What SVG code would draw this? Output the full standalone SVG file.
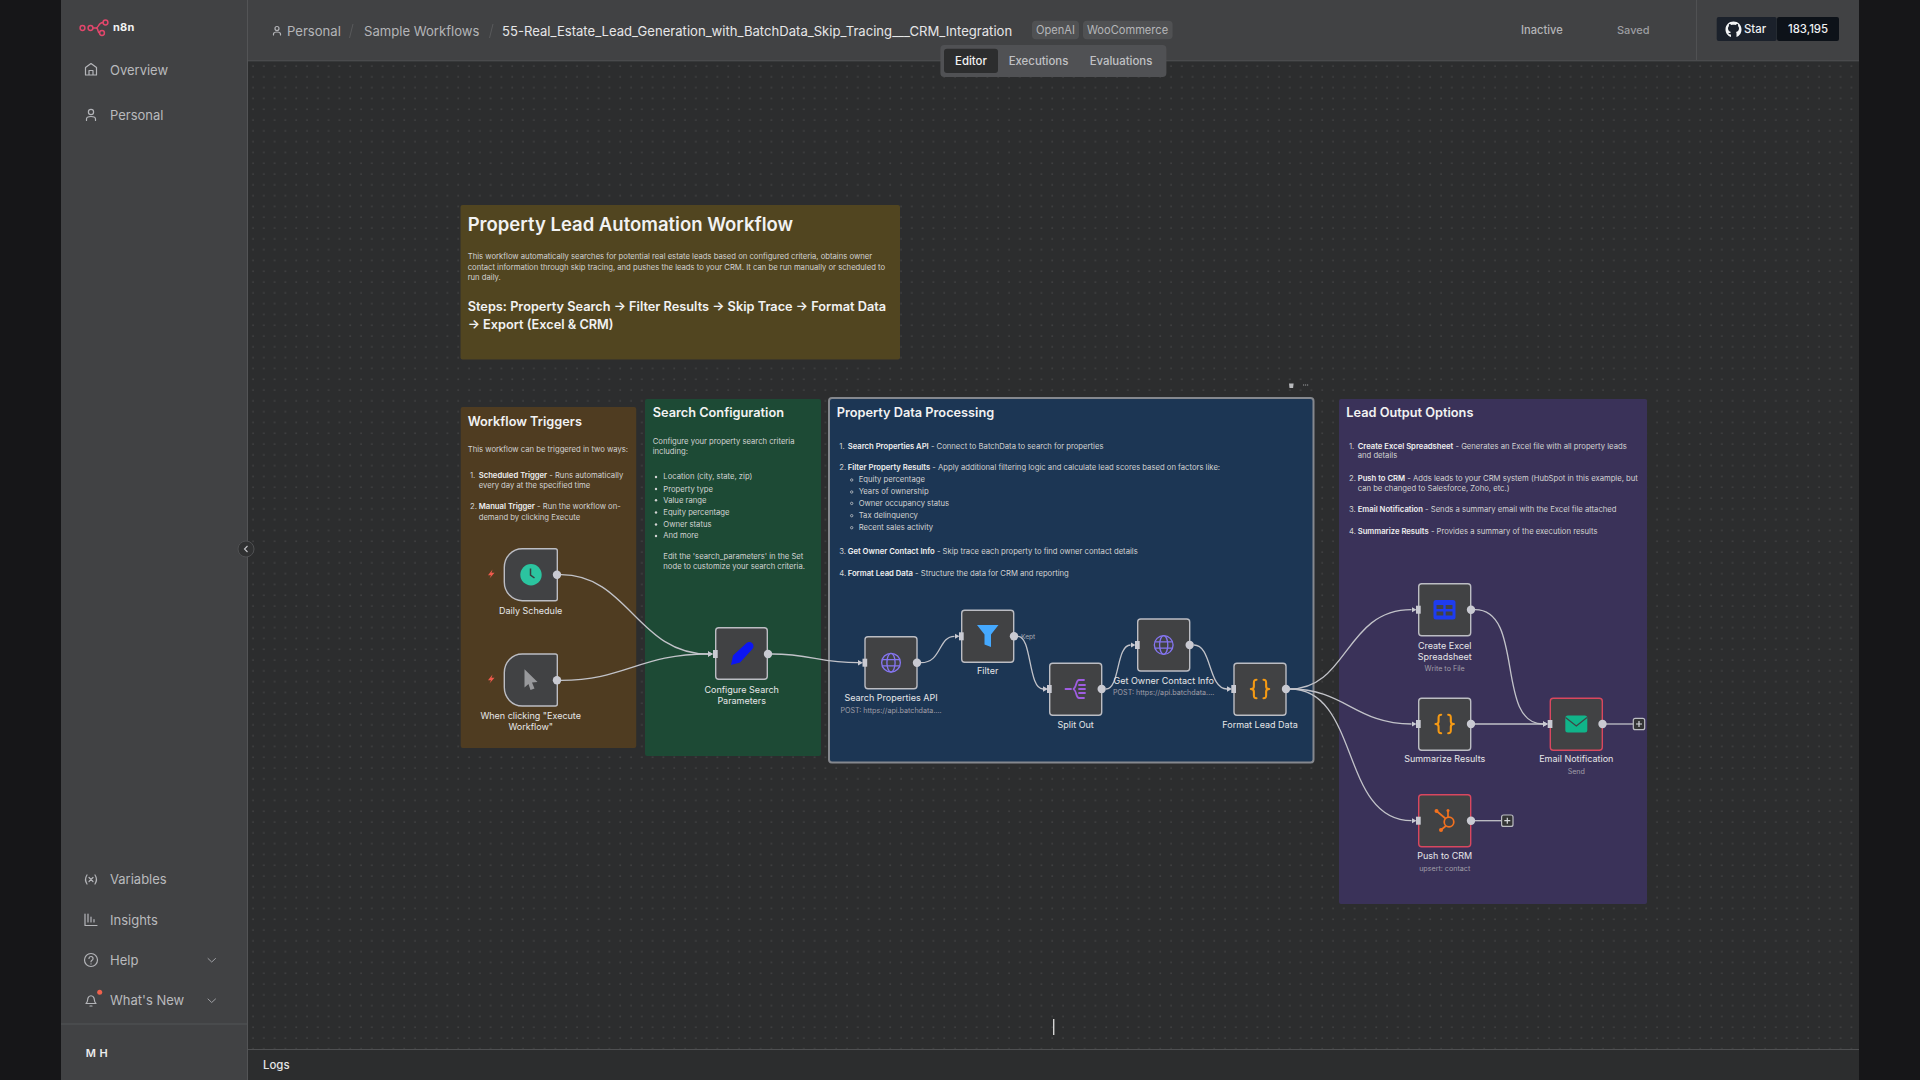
<svg xmlns="http://www.w3.org/2000/svg" width="1920" height="1080" viewBox="0 0 1920 1080">
<style>
text{font-family:Inter,"Liberation Sans",sans-serif}
.side{font-size:13px;fill:#b9babd}
.crumb{font-size:13.1px;fill:#b4b5b8}
.tag{font-size:11.1px;fill:#b5b6b9}
.tab{font-size:11.4px;fill:#c0c1c4;font-weight:500}
.h{font-size:12.75px;font-weight:600;fill:#f2f2f2}
.b{font-size:7.68px;fill:#d2d2d2}
.b tspan{font-weight:600;fill:#f0f0f0}
.nl{font-size:9px;fill:#e6e6e8;text-anchor:middle}
.ns{font-size:7.15px;fill:#a09fa8;text-anchor:middle}
.node{fill:#414244;stroke:#bcbdc3;stroke-width:1.4}
.red{stroke:#d9475f}
.edge{fill:none;stroke:#c2c3c9;stroke-width:1.3}
.out{fill:#c9cad2}
.port{fill:#c9cad2}
.ic{fill:none;stroke:#b4b5b9;stroke-width:1.2;stroke-linecap:round;stroke-linejoin:round}
.chev{fill:none;stroke:#9fa0a4;stroke-width:1;stroke-linecap:round;stroke-linejoin:round}
.plus{fill:#333435;stroke:#bcbdc3;stroke-width:1.2}
.plusm{stroke:#d6d7dc;stroke-width:1.2}
.globe{fill:none;stroke:#8575f0;stroke-width:1.5}
</style>
<defs>
<pattern id="dots" x="248" y="61" width="10.8" height="10.8" patternUnits="userSpaceOnUse">
<circle cx="5" cy="5" r="0.7" fill="#58595a"/>
</pattern>
<marker id="arr" markerWidth="7" markerHeight="8" refX="0" refY="4" orient="auto" markerUnits="userSpaceOnUse">
<path d="M0 1.200L5 4L0 6.800Z" fill="#c9cad2"/>
</marker>
<symbol id="globe" viewBox="0 0 24 24" overflow="visible">
<g class="globe">
<circle cx="12" cy="12" r="10.5"/>
<ellipse cx="12" cy="12" rx="4.600" ry="10.5"/>
<path d="M2 8.500H22M2 15.500H22"/>
</g>
</symbol>
<symbol id="braces" viewBox="0 0 24 24" overflow="visible">
<g fill="none" stroke="#f59a14" stroke-width="2.400" stroke-linecap="round" stroke-linejoin="round">
<path d="M8 1.500C5 1.500 5 3 5 5V9C5 11 4 12 1.500 12C4 12 5 13 5 15V19C5 21 5 22.500 8 22.500"/>
<path d="M16 1.500C19 1.500 19 3 19 5V9C19 11 20 12 22.500 12C20 12 19 13 19 15V19C19 21 19 22.500 16 22.500"/>
</g>
</symbol>
</defs>

<rect width="1920" height="1080" fill="#161618"/>
<rect x="61" y="0" width="1798" height="1080" fill="#2c2d2e"/>
<rect x="248" y="61" width="1611" height="988" fill="url(#dots)"/>

<g id="sidebar">
<rect x="61" y="0" width="186.500" height="1080" fill="#414244"/>
<path d="M247.500 0V1080" stroke="#535456" stroke-width="1"/>
<path d="M61 1024H247" stroke="#535456" stroke-width="1"/>
<g fill="none" stroke="#e2476c" stroke-width="1.500">
<circle cx="82.500" cy="28" r="2.400"/><circle cx="90.500" cy="28" r="2.400"/><circle cx="105.500" cy="22.500" r="2.400"/><circle cx="102" cy="33" r="2.400"/>
<path d="M93 28H96M96 28C99 28 98 22.500 103 22.500M96 28C99 28 97 33 99.600 33"/>
</g>
<text x="113" y="31" font-size="11" font-weight="700" fill="#f2f2f2" letter-spacing="0.2">n8n</text>
<path class="ic" d="M85.500 75V67.500L91 63.500L96.500 67.500V75ZM89 75V70.500H93V75"/>
<text class="side" x="110" y="74.700">Overview</text>
<circle class="ic" cx="91" cy="112" r="2.600"/><path class="ic" d="M86.500 120.500V119C86.500 117 88 116.500 91 116.500S95.500 117 95.500 119V120.500"/>
<text class="side" x="110" y="120">Personal</text>
<path class="ic" d="M87 875C85 878 85 881 87 884M95 875C97 878 97 881 95 884M89 877.500L93 881.500M93 877.500L89 881.500"/>
<text class="side" x="110" y="884">Variables</text>
<path class="ic" d="M85 914V925.500H97M88 914V922M91 917V922M94 919.500V922"/>
<text class="side" x="110" y="924.700">Insights</text>
<circle class="ic" cx="91" cy="960" r="6.500"/><path class="ic" d="M89 958.500C89 955.500 93.500 956 93 959C92.700 960.500 91 960 91 961.800M91 963.800V963.900"/>
<text class="side" x="110" y="965">Help</text>
<path class="chev" d="M208 958.500L211.700 962L215.500 958.500"/>
<path class="ic" d="M86 1003.500C88 1002 87.500 999.500 88 998C89 995 93 995 94 998C94.500 999.500 94 1002 96 1003.500ZM90 1006H92"/>
<circle cx="99.700" cy="992.300" r="2.500" fill="#f0614c"/>
<text class="side" x="110" y="1005">What's New</text>
<path class="chev" d="M208 999L211.700 1002.500L215.500 999"/>
<text x="85.700" y="1056.700" font-size="11" font-weight="600" fill="#ececec" letter-spacing="0.4">M H</text>
</g>

<g id="header">
<rect x="248" y="0" width="1611" height="60.500" fill="#414244"/>
<path d="M248 60.800H1859" stroke="#535456" stroke-width="1"/>
<path d="M1696.500 0V60" stroke="#505153" stroke-width="1"/>
<circle class="ic" cx="277" cy="28.500" r="2" stroke-width="1"/><path class="ic" stroke-width="1" d="M273.500 35V34C273.500 32.500 275 32 277 32S280.500 32.500 280.500 34V35"/>
<text class="crumb" x="287" y="35.700">Personal</text>
<path d="M353 24L349.500 38" stroke="#58595b" stroke-width="1"/>
<text class="crumb" x="364" y="35.700">Sample Workflows</text>
<path d="M493 24L489.500 38" stroke="#58595b" stroke-width="1"/>
<text x="502" y="35.700" font-size="13.100" fill="#e6e6e8">55-Real_Estate_Lead_Generation_with_BatchData_Skip_Tracing___CRM_Integration</text>
<rect x="1032" y="20.700" width="47" height="18.600" rx="4" fill="#505153"/>
<text class="tag" x="1036" y="33.700">OpenAI</text>
<rect x="1083" y="20.700" width="89.600" height="18.600" rx="4" fill="#505153"/>
<text class="tag" x="1087" y="33.700">WooCommerce</text>
<text x="1521" y="33.800" font-size="11.100" font-weight="500" fill="#b4b5b8">Inactive</text>
<text x="1617" y="33.500" font-size="11" font-weight="500" fill="#9d9ea2">Saved</text>
<rect x="1716.700" y="17" width="60" height="24" rx="2" fill="#1b212b"/>
<rect x="1777" y="17" width="62" height="24" rx="2" fill="#0d1219"/>
<path d="M1733.500 21.500C1729 21.500 1725.500 25 1725.500 29.500C1725.500 33 1727.800 36 1731 37V34.500C1729 34.800 1728.500 33.500 1728.200 32.800C1730 33.500 1730.500 32.500 1731 32C1729 31.500 1728 30 1728 28.500C1728 27.500 1728.500 26.500 1729 26C1728.800 25.500 1728.800 24.500 1729.200 24C1730 24 1731 24.500 1731.500 25C1732.800 24.700 1734.200 24.700 1735.500 25C1736 24.500 1737 24 1737.800 24C1738.200 24.500 1738.200 25.500 1738 26C1738.500 26.500 1739 27.500 1739 28.500C1739 30 1738 31.500 1736 32C1736.500 32.500 1736.500 33.500 1736.500 34V37C1739.500 36 1741.500 33 1741.500 29.500C1741.500 25 1738 21.500 1733.500 21.500Z" fill="#f4f5f6"/>
<text x="1744" y="33" font-size="11.400" font-weight="500" fill="#eff0f2">Star</text>
<text x="1808" y="33" font-size="11.400" font-weight="500" fill="#eff0f2" text-anchor="middle">183,195</text>
</g>

<g id="tabs">
<rect x="940.400" y="45" width="226" height="32" rx="4" fill="#505154"/>
<rect x="944" y="48.700" width="54" height="24.300" rx="3" fill="#2c2d2e"/>
<text class="tab" x="971" y="64.500" text-anchor="middle" style="fill:#f2f2f2">Editor</text>
<text class="tab" x="1038.500" y="64.500" text-anchor="middle">Executions</text>
<text class="tab" x="1121" y="64.500" text-anchor="middle">Evaluations</text>
</g>

<g id="collapse">
<circle cx="246" cy="549" r="8" fill="#303132" stroke="#4f5052" stroke-width="1"/>
<path d="M247.500 546L244.500 549L247.500 552" fill="none" stroke="#c4c5c8" stroke-width="1.100"/>
</g>

<g id="logs">
<rect x="248" y="1049" width="1611" height="31" fill="#2c2d2e"/>
<path d="M248 1049.500H1859" stroke="#4f5052" stroke-width="1"/>
<text x="263" y="1069" font-size="11.400" font-weight="500" fill="#e4e4e6">Logs</text>
</g>
<rect id="cursor" x="1053" y="1019" width="1.400" height="16" fill="#d5d5d5"/>

<g id="note-main">
<rect x="460.500" y="205" width="439.500" height="154.500" rx="2" fill="#514520"/>
<text x="467.700" y="230.700" font-size="18.500" font-weight="600" fill="#f2f2f2">Property Lead Automation Workflow</text>
<text class="b" x="467.700" y="259.300">This workflow automatically searches for potential real estate leads based on configured criteria, obtains owner</text>
<text class="b" x="467.700" y="269.700">contact information through skip tracing, and pushes the leads to your CRM. It can be run manually or scheduled to</text>
<text class="b" x="467.700" y="280">run daily.</text>
<text x="467.700" y="311" font-size="12.750" font-weight="600" fill="#f2f2f2">Steps: Property Search → Filter Results → Skip Trace → Format Data</text>
<text x="467.700" y="328.700" font-size="12.750" font-weight="600" fill="#f2f2f2">→ Export (Excel &amp; CRM)</text>
</g>

<g id="note-triggers">
<rect x="460.700" y="407" width="175.500" height="341" rx="2" fill="#4f3c21"/>
<text class="h" x="467.700" y="426">Workflow Triggers</text>
<text class="b" x="467.700" y="452.300">This workflow can be triggered in two ways:</text>
<text class="b" x="470" y="477.700">1.</text>
<text class="b" x="478.700" y="477.700"><tspan>Scheduled Trigger</tspan> - Runs automatically</text>
<text class="b" x="478.700" y="487.700">every day at the specified time</text>
<text class="b" x="470" y="509.300">2.</text>
<text class="b" x="478.700" y="509.300"><tspan>Manual Trigger</tspan> - Run the workflow on-</text>
<text class="b" x="478.700" y="519.700">demand by clicking Execute</text>
</g>

<g id="note-search">
<rect x="645" y="399" width="176" height="357" rx="2" fill="#1d4a35"/>
<text class="h" x="652.700" y="416.700">Search Configuration</text>
<text class="b" x="652.700" y="444">Configure your property search criteria</text>
<text class="b" x="652.700" y="454.300">including:</text>
<g fill="#d4d4d4"><circle cx="656" cy="477" r="1.200"/><circle cx="656" cy="489" r="1.200"/><circle cx="656" cy="500.300" r="1.200"/><circle cx="656" cy="512.500" r="1.200"/><circle cx="656" cy="524.500" r="1.200"/><circle cx="656" cy="536" r="1.200"/></g>
<text class="b" x="663.300" y="479.300">Location (city, state, zip)</text>
<text class="b" x="663.300" y="491.700">Property type</text>
<text class="b" x="663.300" y="502.700">Value range</text>
<text class="b" x="663.300" y="515">Equity percentage</text>
<text class="b" x="663.300" y="527">Owner status</text>
<text class="b" x="663.300" y="538.300">And more</text>
<text class="b" x="663.300" y="559">Edit the 'search_parameters' in the Set</text>
<text class="b" x="663.300" y="569.300">node to customize your search criteria.</text>
</g>

<g id="note-processing">
<rect x="829" y="398" width="484.500" height="364.500" rx="3" fill="#1c3654" stroke="#85888e" stroke-width="2"/>
<text class="h" x="836.700" y="416.700">Property Data Processing</text>
<text class="b" x="839.300" y="448.700">1.</text>
<text class="b" x="847.700" y="448.700"><tspan>Search Properties API</tspan> - Connect to BatchData to search for properties</text>
<text class="b" x="839.300" y="470">2.</text>
<text class="b" x="847.700" y="470"><tspan>Filter Property Results</tspan> - Apply additional filtering logic and calculate lead scores based on factors like:</text>
<g fill="none" stroke="#d4d4d4" stroke-width="0.700"><circle cx="851.700" cy="480" r="1.200"/><circle cx="851.700" cy="492" r="1.200"/><circle cx="851.700" cy="503.400" r="1.200"/><circle cx="851.700" cy="515.700" r="1.200"/><circle cx="851.700" cy="527.700" r="1.200"/></g>
<text class="b" x="858.700" y="482.300">Equity percentage</text>
<text class="b" x="858.700" y="494.300">Years of ownership</text>
<text class="b" x="858.700" y="505.700">Owner occupancy status</text>
<text class="b" x="858.700" y="518">Tax delinquency</text>
<text class="b" x="858.700" y="530">Recent sales activity</text>
<text class="b" x="839.300" y="554.300">3.</text>
<text class="b" x="847.700" y="554.300"><tspan>Get Owner Contact Info</tspan> - Skip trace each property to find owner contact details</text>
<text class="b" x="839.300" y="576">4.</text>
<text class="b" x="847.700" y="576"><tspan>Format Lead Data</tspan> - Structure the data for CRM and reporting</text>
</g>
<g id="note-toolbar" fill="#b8b9bc">
<path d="M1289 383.500H1293.600L1293.100 388H1289.500Z"/>
<path d="M1303 385H1304.200M1305 385H1306.200M1307 385H1308.200" stroke="#b8b9bc" stroke-width="0.800"/>
</g>

<g id="note-output">
<rect x="1339" y="399" width="308" height="505" rx="2" fill="#3a3259"/>
<text class="h" x="1346.300" y="416.700">Lead Output Options</text>
<text class="b" x="1349" y="448.700">1.</text>
<text class="b" x="1357.700" y="448.700"><tspan>Create Excel Spreadsheet</tspan> - Generates an Excel file with all property leads</text>
<text class="b" x="1357.700" y="458">and details</text>
<text class="b" x="1349" y="480.700">2.</text>
<text class="b" x="1357.700" y="480.700"><tspan>Push to CRM</tspan> - Adds leads to your CRM system (HubSpot in this example, but</text>
<text class="b" x="1357.700" y="491">can be changed to Salesforce, Zoho, etc.)</text>
<text class="b" x="1349" y="512">3.</text>
<text class="b" x="1357.700" y="512"><tspan>Email Notification</tspan> - Sends a summary email with the Excel file attached</text>
<text class="b" x="1349" y="533.700">4.</text>
<text class="b" x="1357.700" y="533.700"><tspan>Summarize Results</tspan> - Provides a summary of the execution results</text>
</g>

<g id="connectors">
<path class="edge" marker-end="url(#arr)" d="M561 574.700C628 574.700 638 654 708 654"/>
<path class="edge" marker-end="url(#arr)" d="M561 680.300C625 680.300 640 654 708 654"/>
<path class="edge" marker-end="url(#arr)" d="M772 654C810 654 820 662.700 858 662.700"/>
<path class="edge" marker-end="url(#arr)" d="M921 662.700C942 662.700 938 636.300 954.500 636.300"/>
<path class="edge" marker-end="url(#arr)" d="M1018 636.300C1032 636.300 1028 689 1043 689"/>
<path class="edge" marker-end="url(#arr)" d="M1106 689C1120 689 1116 645 1130.500 645"/>
<path class="edge" marker-end="url(#arr)" d="M1194 645C1212 645 1208 689 1227 689"/>
<path class="edge" marker-end="url(#arr)" d="M1290 689C1348 689 1345 609.700 1411.500 609.700"/>
<path class="edge" marker-end="url(#arr)" d="M1290 689C1345 689 1355 724 1411.500 724"/>
<path class="edge" marker-end="url(#arr)" d="M1290 689C1360 689 1340 820.700 1411.500 820.700"/>
<path class="edge" marker-end="url(#arr)" d="M1475 609.700C1525 609.700 1495 724 1543 724"/>
<path class="edge" marker-end="url(#arr)" d="M1475 724H1543"/>
<path class="edge" d="M1606 724H1633"/>
<path class="edge" d="M1475 820.700H1501"/>
</g>

<g id="node-daily">
<path class="node" d="M522.300 548.700H555.300Q557.300 548.700 557.300 550.700V598.700Q557.300 600.700 555.300 600.700H522.300C512 600.700 504.300 592 504.300 582V567.500C504.300 557 512 548.700 522.300 548.700Z"/>
<circle cx="531" cy="574.700" r="10.700" fill="#2bc4a0"/>
<path d="M530.500 568.500V575L534.500 578" fill="none" stroke="#3a3c3e" stroke-width="1.500"/>
<circle class="out" cx="557" cy="574.700" r="4.200"/>
<path d="M492.500 569.500L488 575.200H491L489.500 578.500L494.500 572.800H491.500Z" fill="#ef5a4c"/>
<text class="nl" x="530.700" y="613.500">Daily Schedule</text>
</g>

<g id="node-manual">
<path class="node" d="M522.300 654H555.300Q557.300 654 557.300 656V704Q557.300 706 555.300 706H522.300C512 706 504.300 697.300 504.300 687.300V672.800C504.300 662.300 512 654 522.300 654Z"/>
<path d="M524.500 669.200L537.500 682L532 682.500L534.500 688.500L530.500 690L528.500 684L524.500 687.500Z" fill="#98999c"/>
<circle class="out" cx="557" cy="680.300" r="4.200"/>
<path d="M492.500 674.500L488 680.200H491L489.500 683.500L494.500 677.800H491.500Z" fill="#ef5a4c"/>
<text class="nl" x="530.700" y="718.700">When clicking "Execute</text>
<text class="nl" x="530.700" y="729.700">Workflow"</text>
</g>

<g id="node-config">
<rect class="node" x="715.700" y="627.700" width="51.600" height="51.600" rx="3"/>
<rect class="port" x="713" y="650" width="4.700" height="8"/>
<path d="M731 665L733 655.500L746 643.500C748 641.500 751 641.500 752.500 643.500C754 645 754 647.500 752 649.500L740 662.500Z" fill="#0c16f2"/>
<circle class="out" cx="768" cy="654" r="4.200"/>
<text class="nl" x="741.700" y="692.500">Configure Search</text>
<text class="nl" x="741.700" y="703.500">Parameters</text>
</g>

<g id="node-search-api">
<rect class="node" x="865" y="636.700" width="52" height="52" rx="3"/>
<rect class="port" x="862.500" y="658.700" width="4.700" height="8"/>
<use href="#globe" x="880.300" y="652" width="21.400" height="21.400"/>
<circle class="out" cx="917" cy="662.700" r="4.200"/>
<text class="nl" x="891" y="700.700">Search Properties API</text>
<text class="ns" x="891" y="712.700">POST: https://api.batchdata....</text>
</g>

<g id="node-filter">
<rect class="node" x="961.700" y="610.300" width="52" height="52" rx="3"/>
<rect class="port" x="959" y="632.300" width="4.700" height="8"/>
<path d="M977 625H998.500L991 634.500V647L984.500 644.500V634.500Z" fill="#45a9ff"/>
<circle class="out" cx="1014" cy="636.300" r="4.200"/>
<text x="1021" y="638.700" font-size="6.600" fill="#a9adb5">Kept</text>
<text class="nl" x="987.700" y="674">Filter</text>
</g>

<g id="node-split">
<rect class="node" x="1049.700" y="663.300" width="52" height="52" rx="3"/>
<rect class="port" x="1047" y="685" width="4.700" height="8"/>
<g fill="none" stroke="#9f5de2" stroke-width="1.800" stroke-linecap="round">
<path d="M1065.500 689H1071M1084 680H1079C1075.500 680 1077 688 1073 689C1077 690 1075.500 698 1079 698H1084M1079 685H1085M1079 689H1085M1079 693H1085"/>
</g>
<circle class="out" cx="1101.700" cy="689" r="4.200"/>
<text class="nl" x="1075.700" y="727.700">Split Out</text>
</g>

<g id="node-owner">
<rect class="node" x="1137.700" y="619" width="52" height="52" rx="3"/>
<rect class="port" x="1135" y="641" width="4.700" height="8"/>
<use href="#globe" x="1153" y="634.300" width="21.400" height="21.400"/>
<circle class="out" cx="1189.700" cy="645" r="4.200"/>
<text class="nl" x="1163.700" y="683.700">Get Owner Contact Info</text>
<text class="ns" x="1163.700" y="695">POST: https://api.batchdata....</text>
</g>

<g id="node-format">
<rect class="node" x="1234" y="663.300" width="52" height="52" rx="3"/>
<rect class="port" x="1231.300" y="685" width="4.700" height="8"/>
<use href="#braces" x="1249.500" y="678" width="21" height="22"/>
<circle class="out" cx="1286" cy="689" r="4.200"/>
<text class="nl" x="1260" y="727.700">Format Lead Data</text>
</g>

<g id="node-excel">
<rect class="node" x="1418.700" y="583.700" width="52" height="52" rx="3"/>
<rect class="port" x="1416" y="605.700" width="4.700" height="8"/>
<rect x="1433.500" y="600" width="22" height="19.500" rx="2.500" fill="#1e3cf0"/>
<g fill="#414244"><rect x="1436.500" y="605" width="6.800" height="4"/><rect x="1445.700" y="605" width="6.800" height="4"/><rect x="1436.500" y="611.500" width="6.800" height="4"/><rect x="1445.700" y="611.500" width="6.800" height="4"/></g>
<circle class="out" cx="1471" cy="609.700" r="4.200"/>
<text class="nl" x="1444.700" y="648.500">Create Excel</text>
<text class="nl" x="1444.700" y="659.700">Spreadsheet</text>
<text class="ns" x="1444.700" y="670.500">Write to File</text>
</g>

<g id="node-summarize">
<rect class="node" x="1418.700" y="698.300" width="52" height="52" rx="3"/>
<rect class="port" x="1416" y="720" width="4.700" height="8"/>
<use href="#braces" x="1434.200" y="713" width="21" height="22"/>
<circle class="out" cx="1471" cy="724" r="4.200"/>
<text class="nl" x="1444.700" y="762.300">Summarize Results</text>
</g>

<g id="node-email">
<rect class="node red" x="1550.300" y="698.300" width="52" height="52" rx="3"/>
<rect class="port" x="1547.700" y="720" width="4.700" height="8"/>
<rect x="1565.300" y="715.500" width="22" height="17" rx="2.500" fill="#10b489"/>
<path d="M1565.500 717.500L1576.300 726L1587 717.500" fill="none" stroke="#414244" stroke-width="1.200"/>
<circle class="out" cx="1602.500" cy="724" r="4.200"/>
<text class="nl" x="1576.300" y="762.300">Email Notification</text>
<text class="ns" x="1576.300" y="773.700">Send</text>
</g>
<g id="add-email">
<rect class="plus" x="1633.300" y="718.300" width="11.400" height="11.400" rx="2"/>
<path class="plusm" d="M1636 724H1642M1639 721V727"/>
</g>

<g id="node-crm">
<rect class="node red" x="1418.700" y="794.700" width="52" height="52" rx="3"/>
<rect class="port" x="1416" y="816.700" width="4.700" height="8"/>
<g fill="none" stroke="#f2711f" stroke-width="1.700">
<circle cx="1449" cy="822" r="4.800"/>
<path d="M1436.500 811L1445.500 818.500M1448 810.500V817M1445.800 826L1441.500 829.500"/>
</g>
<g fill="#f2711f"><circle cx="1436.500" cy="811" r="2"/><circle cx="1448" cy="810.500" r="1.500"/><circle cx="1441" cy="830" r="2"/></g>
<circle class="out" cx="1471" cy="820.700" r="4.200"/>
<text class="nl" x="1444.700" y="858.700">Push to CRM</text>
<text class="ns" x="1444.700" y="871">upsert: contact</text>
</g>
<g id="add-crm">
<rect class="plus" x="1501.600" y="815" width="11.400" height="11.400" rx="2"/>
<path class="plusm" d="M1504.300 820.700H1510.300M1507.300 817.700V823.700"/>
</g>
</svg>
